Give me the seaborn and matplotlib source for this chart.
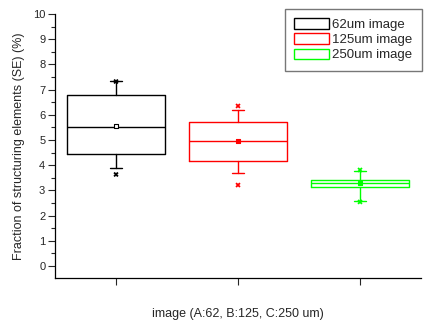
import numpy as np
import pandas as pd
import matplotlib
matplotlib.use("Agg")
import matplotlib.pyplot as plt
from matplotlib.patches import Patch
from matplotlib.ticker import MultipleLocator
import seaborn as sns

# ---- data ----
groups = ["62um image", "125um image", "250um image"]
colors = ["#000000", "#ff0000", "#00ff00"]
q1 = [4.44, 4.17, 3.13]
median = [5.50, 4.96, 3.29]
q3 = [6.77, 5.71, 3.41]
whisker_lo = [3.87, 3.69, 2.58]
whisker_hi = [7.34, 6.19, 3.77]
mean = [5.56, 4.96, 3.29]
x_hi = [7.32, 6.35, 3.81]   # 99% markers
x_lo = [3.63, 3.21, 2.54]   # 1% markers
yticks = list(range(0, 11))

sns.set_style("ticks")
plt.rcParams["font.family"] = ["Liberation Sans", "DejaVu Sans"]

fig = plt.figure(figsize=(4.25, 3.23), dpi=100)
ax = fig.add_axes([55 / 425, 1 - 278 / 323, (421 - 55) / 425, (278 - 14) / 323])

pos = np.arange(len(groups))
stats = []
for i in range(len(groups)):
    stats.append(dict(med=median[i], q1=q1[i], q3=q3[i], whislo=whisker_lo[i],
                      whishi=whisker_hi[i], mean=mean[i], fliers=[]))

for i in range(len(groups)):
    c = colors[i]
    ax.bxp([stats[i]], positions=[pos[i]], widths=0.8, capwidths=0.1,
           showmeans=False, showfliers=False, patch_artist=False,
           boxprops=dict(color=c, linewidth=1.0),
           whiskerprops=dict(color=c, linewidth=1.0),
           capprops=dict(color=c, linewidth=1.0),
           medianprops=dict(color=c, linewidth=1.0))

pts = pd.DataFrame({
    "x": np.concatenate([pos, pos]),
    "y": np.concatenate([x_hi, x_lo]),
    "g": groups + groups,
})
sns.scatterplot(data=pts, x="x", y="y", hue="g", palette=colors, marker="X",
                s=14, linewidth=0, legend=False, ax=ax, zorder=5)
mdf = pd.DataFrame({"x": pos, "y": mean, "g": groups})
sns.scatterplot(data=mdf, x="x", y="y", hue="g", palette=colors, marker="s",
                s=9, linewidth=0.8, legend=False, ax=ax, zorder=6)
coll = ax.collections[-1]
coll.set_facecolor(["white", "#ff0000", "#00ff00"])
coll.set_edgecolor(colors)

ax.set_xlim(-0.5, 2.5)
ax.set_ylim(-0.48, 10)
ax.set_xticks(pos)
ax.set_xticklabels([])
ax.set_yticks(yticks)
ax.yaxis.set_minor_locator(MultipleLocator(0.5))
ax.tick_params(axis="y", which="major", direction="out", length=5, width=0.8, labelsize=8, pad=2)
ax.tick_params(axis="y", which="minor", direction="out", length=3, width=0.8)
ax.tick_params(axis="x", which="major", direction="out", length=5, width=0.8)
sns.despine(ax=ax)
for s in ["left", "bottom"]:
    ax.spines[s].set_color("black")
    ax.spines[s].set_linewidth(0.9)

ax.set_xlabel("image (A:62, B:125, C:250 um)", fontsize=9, labelpad=13)
ax.set_ylabel("Fraction of structuring elements (SE) (%)", fontsize=9, labelpad=6)

handles = [Patch(facecolor="white", edgecolor=c, linewidth=1.0) for c in colors]
leg = fig.legend(handles, groups, loc="upper left",
                 bbox_to_anchor=(285 / 425, 1 - 9 / 323), fontsize=9.5,
                 frameon=True, fancybox=False, borderaxespad=0,
                 handlelength=2.6, handleheight=0.85, handletextpad=0.3,
                 labelspacing=0.18, borderpad=0.7)
leg.get_frame().set_edgecolor("#555555")
leg.get_frame().set_linewidth(1.0)

fig.savefig("out.png", dpi=100)
